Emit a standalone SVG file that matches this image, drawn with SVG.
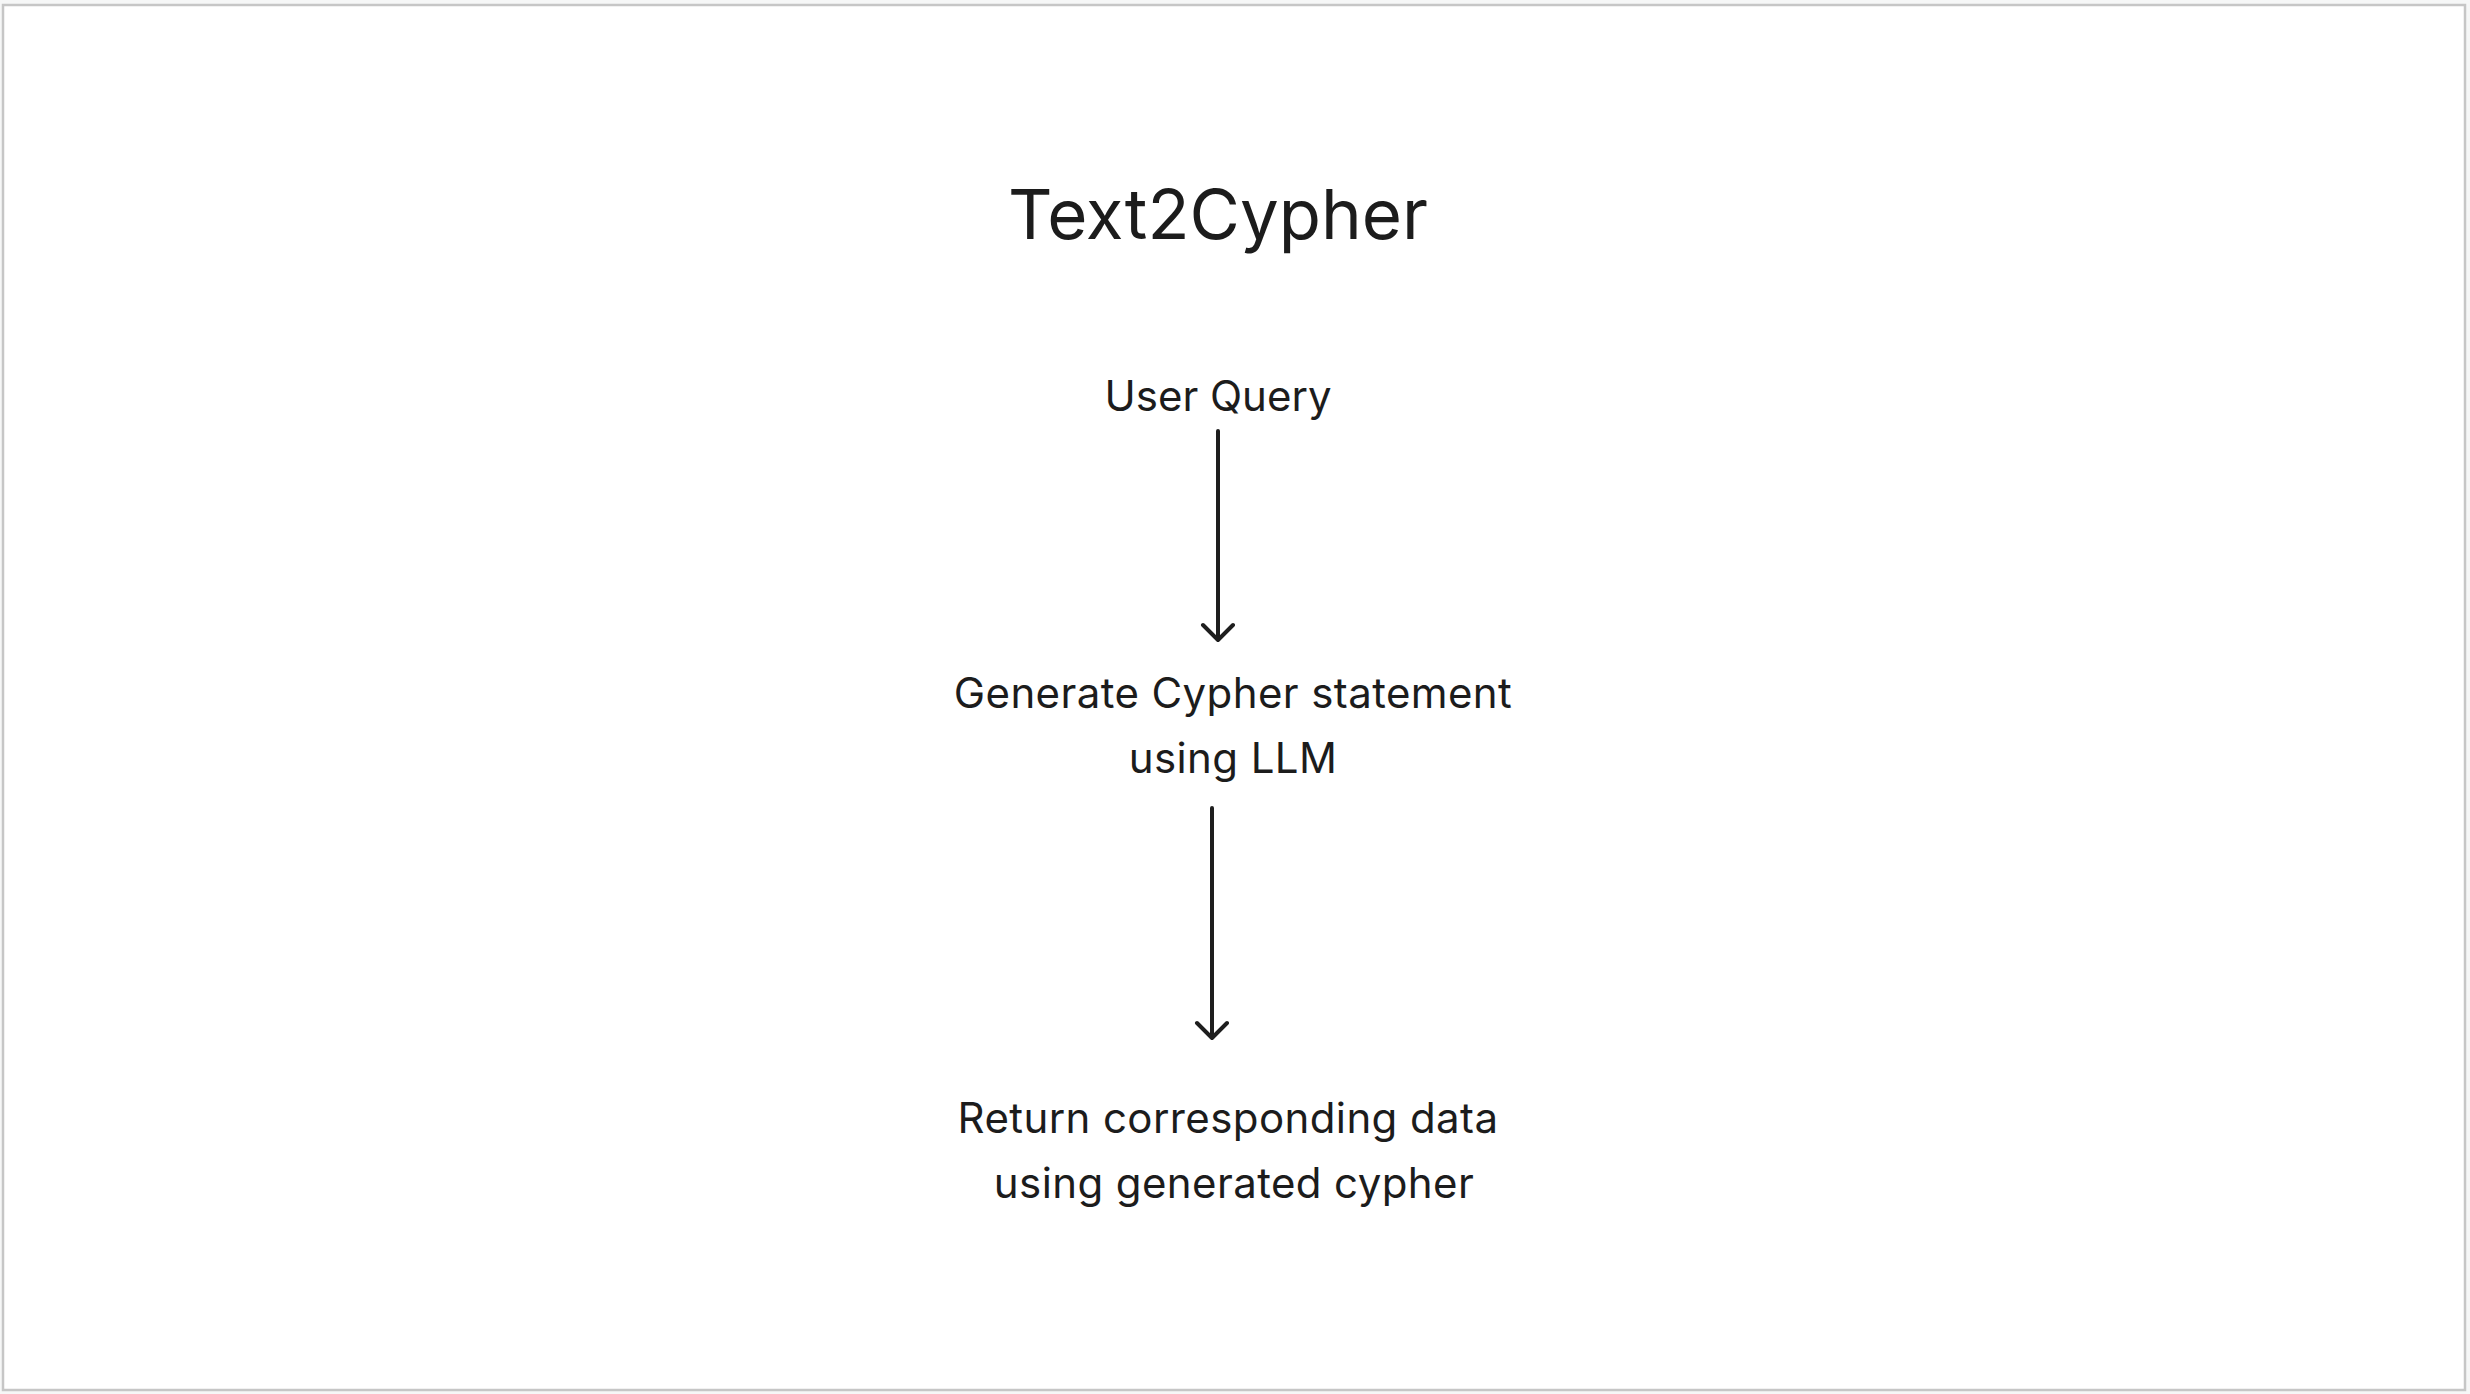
<svg xmlns="http://www.w3.org/2000/svg" width="2470" height="1394" viewBox="0 0 2470 1394">
<style>
.t{font-family:Inter,"Noto Sans","Liberation Sans",sans-serif;fill:#1c1c1c;text-anchor:middle}
.b{font-size:42px;letter-spacing:0.4px}
.c{stroke:#1e1e1e;stroke-width:4;fill:none;stroke-linecap:round;stroke-linejoin:round}
</style>
<rect x="0" y="0" width="2470" height="1394" fill="#f6f7f7"/>
<rect x="3" y="5" width="2462" height="1385" fill="#ffffff" stroke="#c6c6c6" stroke-width="2.5"/>
<g id="title"><text class="t" x="1218" y="239" font-size="69">Text2Cypher</text></g>
<g id="user-query"><text class="t" x="1218" y="411" font-size="42">User Query</text></g>
<g id="generate"><text class="t b"><tspan x="1233" y="708">Generate Cypher statement</tspan><tspan x="1233" y="773">using LLM</tspan></text></g>
<g id="return"><text class="t b"><tspan x="1228" y="1133">Return corresponding data</tspan><tspan x="1234" y="1198">using generated cypher</tspan></text></g>
<g id="connectors">
<path class="c" d="M1218 431 V639 M1203 625 L1218 640 L1233 625"/>
<path class="c" d="M1212 808 V1037 M1197 1023 L1212 1038 L1227 1023"/>
</g>
</svg>
